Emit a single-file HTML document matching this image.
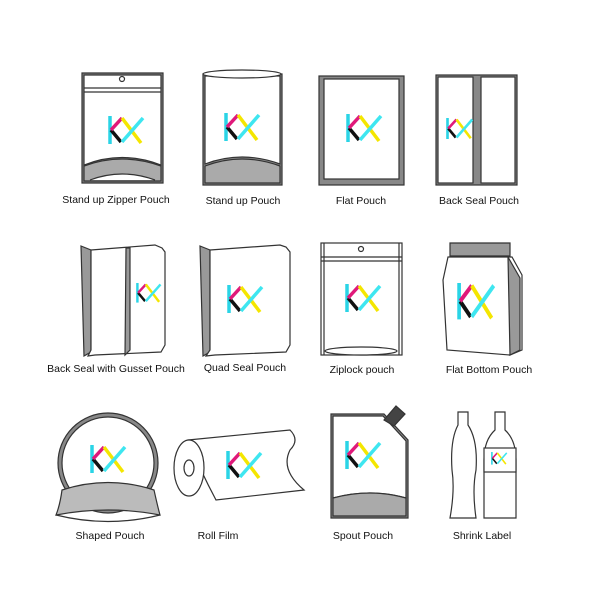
<!DOCTYPE html>
<html><head><meta charset="utf-8"><style>
html,body{margin:0;padding:0;background:#fff;width:600px;height:600px;overflow:hidden}
text{font-family:"Liberation Sans",Arial,sans-serif;font-size:10.5px;fill:#111;text-anchor:middle}
</style></head><body>
<svg width="600" height="600" viewBox="0 0 600 600" xmlns="http://www.w3.org/2000/svg">
<defs>
<g id="logo" stroke-width="3.5" fill="none" stroke-linecap="butt">
<line x1="2" y1="0" x2="2" y2="28" stroke="#2ad4e6"/>
<line x1="3" y1="14" x2="13" y2="26" stroke="#111"/>
<line x1="3" y1="14" x2="14" y2="2" stroke="#e0197a"/>
<line x1="14" y1="2" x2="33" y2="27" stroke="#f4e600"/>
<line x1="14" y1="26" x2="35" y2="2" stroke="#3ee6f0"/>
</g>
</defs>
<g stroke="#333" stroke-width="1.2" fill="#fff">
<!-- Stand up zipper pouch -->
<path d="M82 73 H163 V183 H82 Z" fill="#888"/>
<path d="M84 75 H161 V165 Q122 150 84 165 Z"/>
<path d="M84 166 Q122 152 161 166 V181 H84 Z" fill="#aaa"/>
<path d="M90 180 Q122 168 155 180" fill="#fff"/>
<line x1="84" y1="88" x2="161" y2="88"/><line x1="84" y1="92" x2="161" y2="92"/>
<circle cx="122" cy="79" r="2.5"/>
<!-- Stand up pouch -->
<path d="M203 74 H282 V185 H203 Z" fill="#888"/>
<path d="M205 76 H280 V164 Q242 150 205 164 Z"/>
<path d="M205 166 Q242 152 280 166 V183 H205 Z" fill="#aaa"/>
<ellipse cx="242" cy="74" rx="39" ry="4"/>
<!-- Flat pouch -->
<rect x="319" y="76" width="85" height="109" fill="#888"/>
<rect x="324" y="79" width="75" height="100"/>
<!-- Back seal -->
<rect x="436" y="75" width="81" height="110" fill="#888"/>
<rect x="438" y="77" width="35" height="106"/>
<rect x="481" y="77" width="34" height="106"/>
<!-- Back seal gusset -->
<path d="M81 246 L91 250 V352 L84 356 Z" fill="#999"/>
<path d="M91 250 L155 245 L162 248 L165 252 V345 L161 352 L95 355 L88 356 L91 350 Z"/>
<path d="M126 248 L130 248 V350 L125 355 Z" fill="#999"/>
<!-- Quad seal -->
<path d="M200 246 L210 250 V352 L203 356 Z" fill="#999"/>
<path d="M210 250 L280 245 L286 247 L290 252 V345 L286 352 L215 355 L206 356 L210 350 Z"/>
<!-- Ziplock -->
<rect x="321" y="243" width="81" height="112"/>
<line x1="324" y1="243" x2="324" y2="355"/><line x1="399" y1="243" x2="399" y2="355"/>
<line x1="321" y1="257" x2="402" y2="257"/><line x1="321" y1="261" x2="402" y2="261"/>
<ellipse cx="361" cy="351" rx="36" ry="4"/>
<circle cx="361" cy="249" r="2.5"/>
<!-- Flat bottom -->
<path d="M450 243 H510 V256 H450 Z" fill="#999"/>
<path d="M448 257 H512 L522 275 V350 L510 355 L447 350 L443 280 Z"/>
<path d="M508 257 L520 278 V350 L510 355 Z" fill="#999"/>
<!-- Shaped pouch -->
<circle cx="108" cy="463" r="50" fill="#888"/>
<circle cx="108" cy="463" r="46"/>
<path d="M62 490 Q108 475 154 490 Q158 508 160 515 Q108 505 56 515 Q60 505 62 490 Z" fill="#bbb"/>
<path d="M56 515 Q108 528 160 515" fill="none"/>
<!-- Roll film -->
<path d="M188 440 L290 430 Q300 440 290 450 Q280 470 304 490 L216 500 Q200 470 188 440 Z"/>
<ellipse cx="189" cy="468" rx="15" ry="28"/>
<ellipse cx="189" cy="468" rx="5" ry="8"/>
<!-- Spout pouch -->
<path d="M331 414 H384 L408 440 V518 H331 Z" fill="#888"/>
<path d="M333 416 H383 L406 441 V498 Q370 488 333 498 Z"/>
<path d="M333 498 Q370 488 406 498 V516 H333 Z" fill="#aaa"/>
<path d="M384 420 L396 406 L405 414 L394 426 Z" fill="#444"/>
<!-- Bottles -->
<path d="M458 412 H468 V425 Q478 440 476 470 Q472 490 476 518 H450 Q455 490 452 470 Q450 440 458 425 Z"/>
<path d="M495 412 H505 V430 Q516 440 516 460 V518 H484 V460 Q484 440 495 430 Z"/>
<rect x="484" y="448" width="32" height="24"/>
</g>
<use href="#logo" transform="translate(108 116)"/>
<use href="#logo" transform="translate(224 113)"/>
<use href="#logo" transform="translate(346 114)"/>
<use href="#logo" transform="translate(446 118) scale(0.75)"/>
<use href="#logo" transform="translate(136 283) scale(0.7)"/>
<use href="#logo" transform="translate(227 285)"/>
<use href="#logo" transform="translate(345 284)"/>
<use href="#logo" transform="translate(457 283) scale(1.05 1.3)"/>
<use href="#logo" transform="translate(90 445)"/>
<use href="#logo" transform="translate(226 451)"/>
<use href="#logo" transform="translate(345 441)"/>
<use href="#logo" transform="translate(491 452) scale(0.45)"/>
<text x="116" y="203">Stand up Zipper Pouch</text>
<text x="243" y="204">Stand up Pouch</text>
<text x="361" y="204">Flat Pouch</text>
<text x="479" y="204">Back Seal Pouch</text>
<text x="116" y="372">Back Seal with Gusset Pouch</text>
<text x="245" y="371">Quad Seal Pouch</text>
<text x="362" y="373">Ziplock pouch</text>
<text x="489" y="373">Flat Bottom Pouch</text>
<text x="110" y="539">Shaped Pouch</text>
<text x="218" y="539">Roll Film</text>
<text x="363" y="539">Spout Pouch</text>
<text x="482" y="539">Shrink Label</text>
</svg>
</body></html>
